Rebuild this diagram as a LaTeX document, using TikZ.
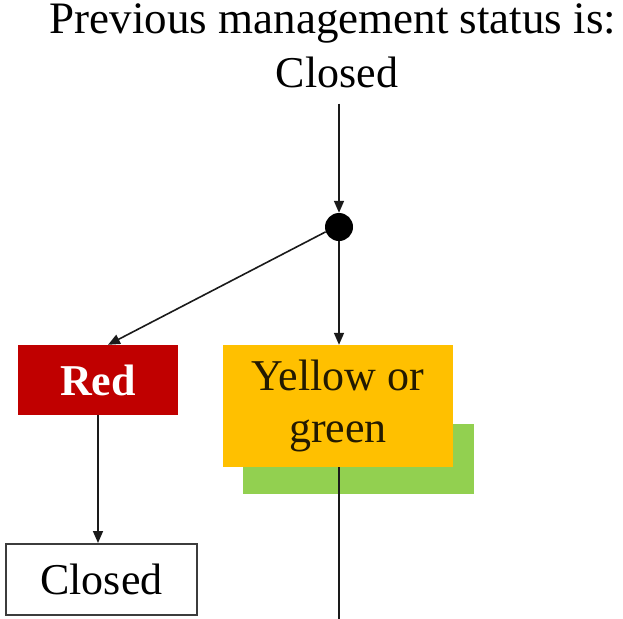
\documentclass[tikz,border=0pt]{standalone}
\usepackage{fontspec}
\setmainfont{Liberation Serif}
\usetikzlibrary{arrows.meta}
\definecolor{cred}{HTML}{C00000}
\definecolor{cyellow}{HTML}{FFC000}
\definecolor{cgreen}{HTML}{92D050}
\definecolor{cline}{HTML}{1A1A1A}
\definecolor{ctext}{HTML}{231A00}
\tikzset{
  big/.style={font=\fontsize{44}{52}\selectfont},
  arr/.style={draw=cline, line width=1.6pt, -{Triangle[length=12pt,width=10pt]}},
  plain/.style={draw=cline, line width=1.6pt},
}
\begin{document}
\begin{tikzpicture}[x=1pt,y=-1pt]
\useasboundingbox (0,0) rectangle (623,618);
% title
\node[font=\fontsize{45}{52}\selectfont, anchor=base, inner sep=0pt] (title1) at (333,34) {Previous management status is:};
\node[big, anchor=base, inner sep=0pt] (title2) at (337,87) {Closed};
% dot
\node[circle, fill=black, minimum size=28pt, inner sep=0pt] (dot) at (339,227) {};
% boxes
\node[fill=cgreen, minimum width=231pt, minimum height=70pt, inner sep=0pt] (green) at (358.5,459) {};
\node[fill=cyellow, minimum width=230pt, minimum height=122pt, inner sep=0pt, big, text=ctext, align=center] (yellow) at (338,406) {Yellow or\\green};
\node[fill=cred, minimum width=160pt, minimum height=70pt, inner sep=0pt, text=white, font=\fontsize{44}{52}\selectfont\bfseries] (red) at (98,380) {Red};
\node[draw=cline!85, line width=2pt, fill=white, minimum width=191pt, minimum height=71pt, inner sep=0pt, big] (closed) at (101.5,579.5) {Closed};
\coordinate (bottom) at (339,620);
% connectors
\draw[arr, shorten <=16pt] (title2.south -| dot) -- (dot.north);
\draw[arr] (dot.south) -- (yellow.north -| dot);
\draw[arr] (dot.200) -- ([xshift=10pt]red.north);
\draw[arr] (red.south) -- (closed.north -| red.south);
\draw[plain] (yellow.south -| dot) -- (bottom);
\end{tikzpicture}
\end{document}
